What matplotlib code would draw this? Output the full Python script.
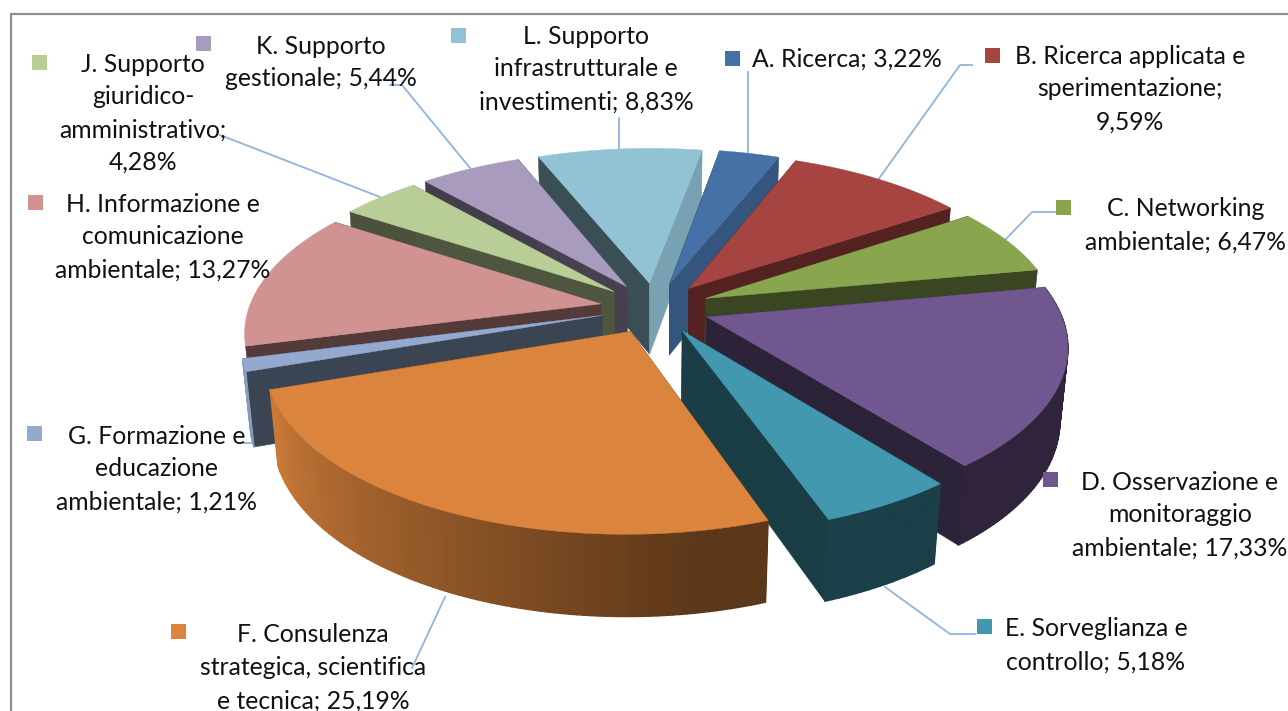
import numpy as np
import matplotlib
matplotlib.use("Agg")
import matplotlib.pyplot as plt
from matplotlib.colors import to_rgb
from matplotlib.collections import PolyCollection

# Quota per attivita' (%)
codes = ["A", "B", "C", "D", "E", "F", "G", "H", "J", "K", "L"]
values = [3.22, 9.59, 6.47, 17.33, 5.18, 25.19, 1.21, 13.27, 4.28, 5.44, 8.83]
label_lines = [
    ["A. Ricerca; {}"],
    ["B. Ricerca applicata e", "sperimentazione;", "{}"],
    ["C. Networking", "ambientale; {}"],
    ["D. Osservazione e", "monitoraggio", "ambientale; {}"],
    ["E. Sorveglianza e", "controllo; {}"],
    ["F. Consulenza", "strategica, scientifica", "e tecnica; {}"],
    ["G. Formazione e", "educazione", "ambientale; {}"],
    ["H. Informazione e", "comunicazione", "ambientale; {}"],
    ["J. Supporto", "giuridico-", "amministrativo;", "{}"],
    ["K. Supporto", "gestionale; {}"],
    ["L. Supporto", "infrastrutturale e", "investimenti; {}"],
]
top_colors = ["#4571A6", "#A64442", "#89A54E", "#71578F", "#4198AF", "#DB843D",
              "#93A9CF", "#D19392", "#B9CD96", "#A99BBD", "#91C3D5"]
# luminosita' della faccia di taglio destra
end_shades = [0.75, 0.5, 0.42, 0.4, 0.4, 0.43, 0.4, 0.4, 0.42, 0.42, 0.83]

# Geometria della torta
CX, CY = 655, 308
RADIUS = 352
EXPLODE = 55
THICK = 83
TILT = np.radians(27.6)
CAM = 2000
START = 10

# Etichette: centro x del blocco, y della prima riga, posizione del quadratino
label_x = dict(A=847, B=1130, C=1186, D=1180, E=1096, F=313, G=157, H=163, J=143, K=321, L=586)
label_y = dict(A=59, B=56, C=209, D=482, E=629, F=635, G=436, H=204, J=64, K=46, L=36)
key_xy = dict(A=(733, 58), B=(993, 55), C=(1064, 207), D=(1051, 479), E=(985, 626),
              F=(179, 631), G=(35, 433), H=(36, 202), J=(40, 62), K=(204, 43), L=(459, 35))
leaders = [
    [(748, 72), (748, 153)], [(619, 118), (619, 149)],
    [(972, 65), (960, 65), (878, 180)], [(1055, 212), (1032, 212), (1005, 240)],
    [(390, 85), (402, 85), (470, 168)], [(220, 135), (380, 197)],
    [(445, 597), (412, 668)], [(885, 587), (950, 634), (975, 634)],
    [(243, 443), (252, 443)],
]


def project(x, y, z):
    depth = y * np.cos(TILT) - z * np.sin(TILT)
    scale = CAM / (CAM + depth)
    up = y * np.sin(TILT) + z * np.cos(TILT)
    return CX + x * scale, CY - up * scale


def shade(color, k):
    return tuple(c * k for c in to_rgb(color))


def wall_shade(theta):
    # le pareti frontali schiariscono verso sinistra
    return np.interp(theta, [0, 170, 248, 360], [0.4, 0.42, 0.92, 0.9])


fig = plt.figure(figsize=(12.88, 7.11), dpi=100)
ax = fig.add_axes([0, 0, 1, 1])
ax.set_xlim(0, 1288)
ax.set_ylim(711, 0)
ax.axis("off")

# cornice del grafico
ax.plot([11, 11, 1288], [711, 14, 14], color="#8E8E8E", lw=1.6, solid_joinstyle="miter")

for pts in leaders:
    xs, ys = zip(*pts)
    ax.plot(xs, ys, color="#8FB4DE", lw=1.3, zorder=1)

# angoli delle fette in senso orario dal nord
total = sum(values)
edges = START + np.concatenate([[0], np.cumsum(values)]) / total * 360
mids = (edges[:-1] + edges[1:]) / 2
order = np.argsort(-np.cos(np.radians(mids)))

z = 2
for i in order:
    a0, a1 = edges[i], edges[i + 1]
    color = top_colors[i]
    ox = EXPLODE * np.sin(np.radians(mids[i]))
    oy = EXPLODE * np.cos(np.radians(mids[i]))
    th = np.radians(np.linspace(a0, a1, max(int(a1 - a0), 6)))
    rx = ox + RADIUS * np.sin(th)
    ry = oy + RADIUS * np.cos(th)

    top_poly = project(np.r_[ox, rx], np.r_[oy, ry], 0 * np.r_[ox, rx])
    base_rim = project(rx, ry, -THICK * np.ones_like(rx))
    top_rim = project(rx, ry, 0 * rx)
    apex_top = project(ox, oy, 0)
    apex_bot = project(ox, oy, -THICK)

    # facce di taglio
    for idx, k in ((0, 0.4), (-1, end_shades[i])):
        poly = [apex_top, (top_rim[0][idx], top_rim[1][idx]),
                (base_rim[0][idx], base_rim[1][idx]), apex_bot]
        ax.fill(*zip(*poly), color=shade(color, k), lw=0.4, zorder=z)
        z += 1

    # parete esterna a strisce sfumate
    if np.cos(np.radians(mids[i])) < 0:
        strips, cols = [], []
        for j in range(len(th) - 1):
            strips.append([(top_rim[0][j], top_rim[1][j]), (top_rim[0][j + 1], top_rim[1][j + 1]),
                           (base_rim[0][j + 1], base_rim[1][j + 1]), (base_rim[0][j], base_rim[1][j])])
            cols.append(shade(color, wall_shade(np.degrees(th[j]) % 360)))
        ax.add_collection(PolyCollection(strips, facecolors=cols, edgecolors=cols, linewidths=1.0, zorder=z))
    z += 1

    # faccia superiore
    ax.fill(top_poly[0], top_poly[1], color=color, lw=0.3, zorder=z)
    z += 1

# etichette con quadratino
for i, code in enumerate(codes):
    value = f"{values[i]:.2f}%".replace(".", ",")
    kx, ky = key_xy[code]
    ax.fill([kx - 7.5, kx + 7.5, kx + 7.5, kx - 7.5], [ky - 7.5, ky - 7.5, ky + 7.5, ky + 7.5],
            color=top_colors[i], lw=0, zorder=z + 1)
    for n, line in enumerate(label_lines[i]):
        ax.text(label_x[code], label_y[code] + n * 32.8, line.format(value), ha="center", va="center",
                family="Lato", fontsize=17.8, color="#111111", zorder=z + 2)

fig.savefig("out.png", dpi=100)
